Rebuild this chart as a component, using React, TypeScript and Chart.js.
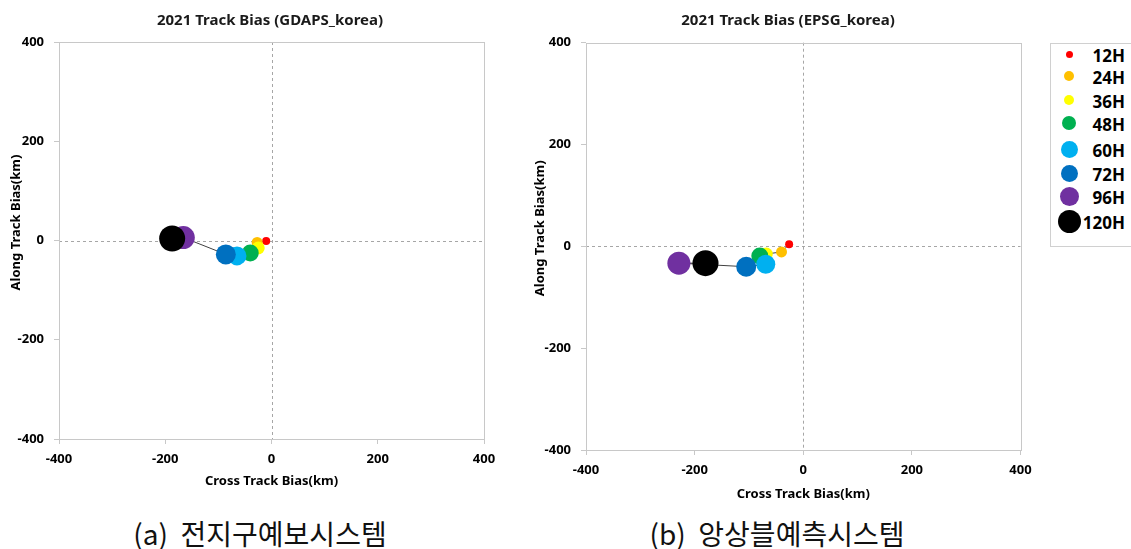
import React, { useEffect, useRef } from 'react';
import { Chart, registerables } from 'chart.js';

Chart.register(...registerables);

// ---- data ----
const hours = ['12H', '24H', '36H', '48H', '60H', '72H', '96H', '120H'];
const hourColors = ['#FF0000', '#FFC000', '#FFFF00', '#00B050', '#00B0F0', '#0070C0', '#7030A0', '#000000'];
const gdapsCross = [-10, -27, -25, -40, -65, -86, -166, -187];
const gdapsAlong = [-1, -4, -15, -25, -31, -28, 6, 4];
const epsgCross = [-26, -40, -68, -80, -69, -105, -229, -180];
const epsgAlong = [4, -11, -15, -19, -35, -40, -33, -33];
const axisTicks = [-400, -200, 0, 200, 400];
const titleLeft = '2021 Track Bias (GDAPS_korea)';
const titleRight = '2021 Track Bias (EPSG_korea)';
const xTitle = 'Cross Track Bias(km)';
const yTitle = 'Along Track Bias(km)';
const captionLeft = '(a)  전지구예보시스템';
const captionRight = '(b)  앙상블예측시스템';

// ---- style ----
const markerRadii = [4, 5.5, 6.5, 8.5, 9.5, 10, 11.5, 13];
const legendRadii = [3.5, 5, 5, 7, 8.5, 8.5, 9.5, 11.5];
const FONT = "'Noto Sans', 'DejaVu Sans', sans-serif";

const framePlugin = {
  id: 'frameAndZero',
  beforeDatasetsDraw(chart: any) {
    const { ctx, chartArea: a, scales } = chart;
    ctx.save();
    ctx.lineWidth = 1;
    ctx.strokeStyle = '#a6a6a6';
    ctx.setLineDash([3, 3]);
    const x0 = Math.round(scales.x.getPixelForValue(0)) + 0.5;
    const y0 = Math.round(scales.y.getPixelForValue(0)) + 0.5;
    ctx.beginPath();
    ctx.moveTo(x0, a.top);
    ctx.lineTo(x0, a.bottom);
    ctx.moveTo(a.left, y0);
    ctx.lineTo(a.right, y0);
    ctx.stroke();
    ctx.setLineDash([]);
    ctx.strokeStyle = '#c8c8c8';
    ctx.strokeRect(
      Math.round(a.left) + 0.5,
      Math.round(a.top) + 0.5,
      Math.round(a.right - a.left),
      Math.round(a.bottom - a.top)
    );
    ctx.restore();
  },
};

// Along-track axis title, drawn a little above the plot centre as in the original
const yTitlePlugin = {
  id: 'yTitle',
  afterDraw(chart: any, _args: any, opts: any) {
    const { ctx, chartArea: a } = chart;
    ctx.save();
    ctx.translate(opts.x, (a.top + a.bottom) / 2 - opts.lift);
    ctx.rotate(-Math.PI / 2);
    ctx.font = `bold 13px ${FONT}`;
    ctx.fillStyle = '#000';
    ctx.textAlign = 'center';
    ctx.textBaseline = 'middle';
    ctx.fillText(yTitle, 0, 0);
    ctx.restore();
  },
};

interface Geo {
  yWidth: number;
  rightWidth: number;
  xHeight: number;
  padBottom: number;
  titleTop: number;
  titleBottom: number;
  xTitleBottom: number;
  yTitleX: number;
}

function makeConfig(title: string, xs: number[], ys: number[], g: Geo): any {
  const pts = xs.map((x, i) => ({ x, y: ys[i] }));
  const datasets: any[] = [
    {
      label: 'track',
      data: pts,
      showLine: true,
      borderColor: '#404040',
      borderWidth: 1,
      pointRadius: 0,
      order: 100,
    },
  ];
  hours.forEach((h, i) => {
    datasets.push({
      label: h,
      data: [pts[i]],
      pointRadius: markerRadii[i],
      pointBackgroundColor: hourColors[i],
      pointBorderWidth: 0,
      borderColor: hourColors[i],
      order: hours.length - i,
    });
  });
  const tickFont = { family: FONT, size: 13, weight: 'bold' as const };
  const titleFont = { family: FONT, size: 13, weight: 'bold' as const };
  const common = {
    type: 'linear',
    min: -400,
    max: 400,
    afterBuildTicks: (s: any) => {
      s.ticks = axisTicks.map((v) => ({ value: v }));
    },
    grid: { drawOnChartArea: false, tickLength: 5, tickColor: '#c8c8c8', color: '#c8c8c8' },
    border: { display: false },
  };
  return {
    type: 'scatter',
    data: { datasets },
    plugins: [framePlugin, yTitlePlugin],
    options: {
      responsive: false,
      animation: false,
      devicePixelRatio: 1,
      layout: { padding: { left: 0, top: 0, right: 0, bottom: g.padBottom } },
      plugins: {
        legend: { display: false },
        tooltip: { enabled: false },
        yTitle: { x: g.yTitleX, lift: 18 },
        title: {
          display: true,
          text: title,
          color: '#1a1a1a',
          font: { family: FONT, size: 15, weight: 'bold' },
          padding: { top: g.titleTop, bottom: g.titleBottom },
        },
      },
      scales: {
        x: {
          ...common,
          position: 'bottom',
          afterFit: (s: any) => {
            s.height = g.xHeight;
          },
          ticks: { font: tickFont, color: '#000', padding: 7, maxRotation: 0, autoSkip: false },
          title: {
            display: true,
            text: xTitle,
            color: '#000',
            font: titleFont,
            padding: { top: 0, bottom: g.xTitleBottom },
          },
        },
        y: {
          ...common,
          position: 'left',
          afterFit: (s: any) => {
            s.width = g.yWidth;
          },
          ticks: { font: tickFont, color: '#000', padding: 10, autoSkip: false },
          title: { display: false },
        },
        yRight: {
          type: 'linear',
          position: 'right',
          display: true,
          afterFit: (s: any) => {
            s.width = g.rightWidth;
          },
          grid: { display: false },
          border: { display: false },
          ticks: { display: false },
        },
      },
    },
  };
}

function ScatterCanvas(props: { cfg: any; left: number; top: number; width: number; height: number }) {
  const ref = useRef<HTMLCanvasElement | null>(null);
  useEffect(() => {
    if (!ref.current) return;
    const chart = new Chart(ref.current, props.cfg);
    return () => chart.destroy();
  }, []);
  return (
    <canvas
      ref={ref}
      width={props.width}
      height={props.height}
      style={{ position: 'absolute', left: props.left, top: props.top, width: props.width, height: props.height }}
    />
  );
}

const leftCfg = makeConfig(titleLeft, gdapsCross, gdapsAlong, {
  yWidth: 59,
  rightWidth: 56,
  xHeight: 60,
  padBottom: 1,
  titleTop: 11.5,
  titleBottom: 12.5,
  xTitleBottom: 9.5,
  yTitleX: 16,
});

const rightCfg = makeConfig(titleRight, epsgCross, epsgAlong, {
  yWidth: 61,
  rightWidth: 30.5,
  xHeight: 60,
  padBottom: 1,
  titleTop: 11.5,
  titleBottom: 13.2,
  xTitleBottom: 7.5,
  yTitleX: 15,
});

const legendY = [54, 76, 100, 123, 149, 173, 196, 221];

function Legend() {
  return (
    <div
      style={{
        position: 'absolute',
        left: 1050,
        top: 43,
        width: 100,
        height: 204,
        border: '1px solid #d0d0d0',
        boxSizing: 'border-box',
        background: '#fff',
      }}
    >
      {hours.map((h, i) => (
        <React.Fragment key={h}>
          <div
            style={{
              position: 'absolute',
              left: 19 - legendRadii[i] - 1,
              top: legendY[i] - 43 - legendRadii[i] - 1,
              width: legendRadii[i] * 2,
              height: legendRadii[i] * 2,
              borderRadius: '50%',
              background: hourColors[i],
            }}
          />
          <div
            style={{
              position: 'absolute',
              right: 100 - 76,
              top: legendY[i] - 43 - 12 + 1,
              height: 24,
              lineHeight: '24px',
              fontFamily: FONT,
              fontWeight: 'bold',
              fontSize: 17,
              color: '#000',
              whiteSpace: 'nowrap',
            }}
          >
            {h}
          </div>
        </React.Fragment>
      ))}
    </div>
  );
}

const captionStyle: React.CSSProperties = {
  position: 'absolute',
  top: 515,
  height: 36,
  lineHeight: '36px',
  fontFamily: "'Noto Sans CJK KR', sans-serif",
  fontSize: 28,
  color: '#111',
  whiteSpace: 'pre',
  transform: 'translateX(-50%)',
};

export default function App() {
  return (
    <div style={{ position: 'absolute', left: 0, top: 0, width: 1131, height: 549, background: '#fff', overflow: 'hidden' }}>
      <ScatterCanvas cfg={leftCfg} left={0} top={0} width={540} height={500} />
      <ScatterCanvas cfg={rightCfg} left={525} top={0} width={526} height={511} />
      <Legend />
      <div style={{ ...captionStyle, left: 260 }}>{captionLeft}</div>
      <div style={{ ...captionStyle, left: 777 }}>{captionRight}</div>
    </div>
  );
}
